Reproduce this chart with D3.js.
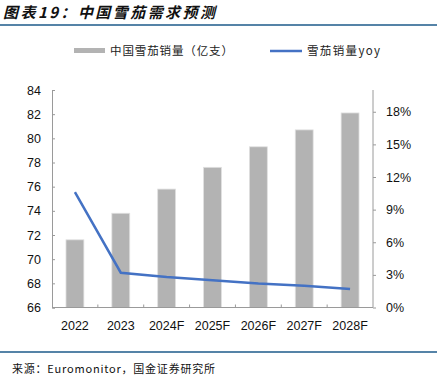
<!DOCTYPE html>
<html><head><meta charset="utf-8">
<script src="https://cdn.jsdelivr.net/npm/d3@7/dist/d3.min.js"></script>
<style>body{margin:0;background:#fff}svg{display:block}</style>
</head><body>
<script>
const categories = ["2022","2023","2024F","2025F","2026F","2027F","2028F"];
const sales = [71.6, 73.8, 75.8, 77.6, 79.3, 80.7, 82.1];
const yoy = [0.106, 0.032, 0.028, 0.025, 0.022, 0.020, 0.017];
const leftTicks = [66,68,70,72,74,76,78,80,82,84];
const rightTicks = [0,0.03,0.06,0.09,0.12,0.15,0.18];
const title = "图表19：中国雪茄需求预测";
const source = "来源：Euromonitor，国金证券研究所";
const legendLabels = ["中国雪茄销量（亿支）","雪茄销量yoy"];

const W=437,H=383;
const svg=d3.select("body").append("svg").attr("width",W).attr("height",H);
const cjk="'Noto Sans CJK SC', sans-serif";
const num="'Liberation Sans', Arial, sans-serif";

// title
svg.append("text").attr("x",3).attr("y",18).attr("font-family",cjk).attr("font-size",15)
  .attr("font-weight","bold").attr("font-style","italic").attr("fill","#111")
  .attr("textLength",212).attr("lengthAdjust","spacing").text(title);
svg.append("line").attr("x1",0).attr("x2",W).attr("y1",25).attr("y2",25).attr("stroke","#1d5a8a").attr("stroke-width",1.5);
svg.append("line").attr("x1",0).attr("x2",W).attr("y1",352).attr("y2",352).attr("stroke","#1d5a8a").attr("stroke-width",1.5);
svg.append("text").attr("x",12).attr("y",373).attr("font-family",cjk).attr("font-size",11).attr("fill","#111")
  .attr("textLength",203).attr("lengthAdjust","spacing").text(source);

const L=52,R=373,T=90,B=307.5;
const x=d3.scaleBand().domain(categories).range([L,R]).paddingInner(0.61).paddingOuter(0.305);
const xc=d3.scaleBand().domain(categories).range([L,R]);
const y=d3.scaleLinear().domain([66,84]).range([B,T]);
const y2=d3.scaleLinear().domain([0,0.2]).range([B,T]);

// bars
svg.selectAll("rect.bar").data(sales).enter().append("rect")
  .attr("x",(d,i)=>x(categories[i])).attr("width",x.bandwidth())
  .attr("y",d=>y(d)).attr("height",d=>B-y(d))
  .attr("fill","#b3b3b3").attr("stroke","#e0e0e0").attr("stroke-width",0.8);

// axes
const axisColor="#9a9a9a";
const gl=svg.append("g").attr("transform",`translate(${L},0)`)
  .call(d3.axisRight(y).tickValues(leftTicks).tickSize(3).tickFormat(""));
gl.selectAll("line,path").attr("stroke",axisColor);
svg.selectAll("text.lt").data(leftTicks).enter().append("text")
  .attr("x",L-11).attr("y",d=>y(d)+4.5).attr("text-anchor","end")
  .attr("font-family",num).attr("font-size",12.5).attr("fill","#111").text(d=>d);

const gr=svg.append("g").attr("transform",`translate(${R},0)`)
  .call(d3.axisRight(y2).tickValues(rightTicks).tickSize(3).tickFormat(""));
gr.select("path").attr("d",`M0,${T}V${B}`);
gr.selectAll("line,path").attr("stroke",axisColor);
svg.selectAll("text.rt").data(rightTicks).enter().append("text")
  .attr("x",R+13).attr("y",d=>y2(d)+4.5).attr("text-anchor","start")
  .attr("font-family",num).attr("font-size",12.5).attr("fill","#111").text(d=>Math.round(d*100)+"%");

// x axis
svg.append("line").attr("x1",L).attr("x2",R).attr("y1",B).attr("y2",B).attr("stroke",axisColor);
svg.selectAll("line.xt").data(categories.slice(1)).enter().append("line")
  .attr("x1",d=>xc(d)).attr("x2",d=>xc(d)).attr("y1",B).attr("y2",B-3).attr("stroke",axisColor);
svg.selectAll("text.xl").data(categories).enter().append("text")
  .attr("x",d=>xc(d)+xc.bandwidth()/2).attr("y",330).attr("text-anchor","middle")
  .attr("font-family",num).attr("font-size",12.5).attr("fill","#111").text(d=>d);

// line
const line=d3.line().x((d,i)=>xc(categories[i])+xc.bandwidth()/2).y(d=>y2(d));
svg.append("path").datum(yoy).attr("d",line).attr("fill","none").attr("stroke","#4472c4").attr("stroke-width",2.5);

// legend
svg.append("rect").attr("x",74).attr("y",48).attr("width",31).attr("height",5).attr("fill","#b3b3b3");
svg.append("text").attr("x",110).attr("y",55).attr("font-family",cjk).attr("font-size",11.5).attr("fill","#222")
  .attr("textLength",123).attr("lengthAdjust","spacing").text(legendLabels[0]);
svg.append("line").attr("x1",270).attr("x2",302).attr("y1",51).attr("y2",51).attr("stroke","#4472c4").attr("stroke-width",2.5);
svg.append("text").attr("x",307).attr("y",55).attr("font-family",cjk).attr("font-size",11.5).attr("fill","#222")
  .attr("textLength",73).attr("lengthAdjust","spacing").text(legendLabels[1]);
</script>
</body></html>
